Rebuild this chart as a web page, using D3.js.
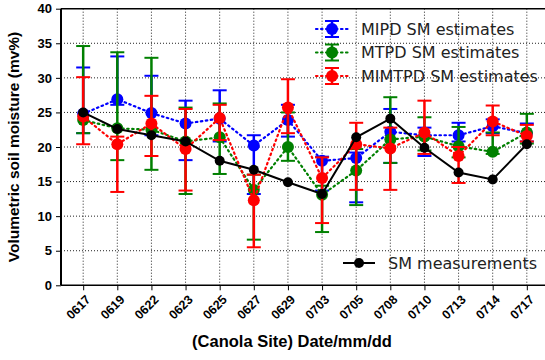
<!DOCTYPE html>
<html lang="en">
<head>
  <meta charset="UTF-8" />
  <title>Canola site soil moisture</title>
  <script src="https://cdn.jsdelivr.net/npm/d3@7/dist/d3.min.js"></script>
  <style>
    body { margin: 0; background: #fff; }
    svg { display: block; }
  </style>
</head>
<body>
  <svg width="545" height="360"></svg>

  <script>
    // dates on the x axis
    const dates = ['0617', '0619', '0622', '0623', '0625', '0627', '0629',
      '0703', '0705', '0708', '0710', '0713', '0714', '0717'];

    // measured soil moisture
    const smMeas = [25.0, 22.6, 21.7, 20.8, 18.0, 16.7, 14.9, 13.2, 21.4, 24.1, 19.9, 16.3, 15.3, 20.4];

    // MIPD estimates (value, lower, upper)
    const mipd = [24.8, 26.9, 24.9, 23.4, 24.1, 20.2, 23.9, 18.0, 18.4, 22.2, 21.7, 21.7, 23.0, 22.0];
    const mipdLo = [22.0, 26.1, 21.7, 18.1, 20.8, 13.2, 21.5, 13.7, 12.0, 17.7, 18.7, 20.8, 22.0, 20.8];
    const mipdHi = [31.5, 33.1, 30.3, 26.7, 28.2, 21.7, 26.1, 18.6, 19.2, 25.5, 22.8, 23.5, 24.0, 23.4];

    // MTPD estimates
    const mtpd = [23.9, 22.7, 22.5, 20.8, 21.4, 13.8, 20.0, 13.1, 16.6, 21.1, 21.5, 20.1, 19.3, 22.1];
    const mtpdLo = [22.0, 18.1, 16.7, 13.2, 16.1, 6.6, 18.0, 7.7, 11.6, 17.7, 19.5, 18.5, 19.0, 20.5];
    const mtpdHi = [34.6, 33.7, 32.9, 25.7, 26.3, 16.0, 25.0, 14.4, 19.7, 27.2, 24.3, 22.9, 22.1, 24.8];

    // MIMTPD estimates
    const mimtpd = [24.4, 20.4, 23.4, 19.7, 24.2, 12.3, 25.7, 15.5, 20.4, 19.8, 22.1, 18.7, 23.7, 21.6];
    const mimtpdLo = [20.4, 13.5, 18.7, 13.7, 21.0, 5.5, 22.0, 9.0, 13.8, 13.8, 19.0, 14.8, 21.7, 20.8];
    const mimtpdHi = [30.1, 21.5, 27.4, 25.5, 26.1, 16.0, 29.8, 18.5, 23.5, 22.8, 26.7, 20.0, 26.0, 23.2];

    const yTicks = [0, 5, 10, 15, 20, 25, 30, 35, 40];

    const series = [
      { name: 'MIPD SM estimates', color: '#0000ff', v: mipd, lo: mipdLo, hi: mipdHi },
      { name: 'MTPD SM estimates', color: '#008000', v: mtpd, lo: mtpdLo, hi: mtpdHi },
      { name: 'MIMTPD SM estimates', color: '#ff0000', v: mimtpd, lo: mimtpdLo, hi: mimtpdHi },
    ];

    const svg = d3.select('svg');
    const pLeft = 61, pRight = 549, pTop = 8.7, pBottom = 285.3;

    const x = d3.scaleLinear().domain([-0.65, dates.length - 0.35]).range([pLeft, pRight]);
    const y = d3.scaleLinear().domain([0, 40]).range([pBottom, pTop]);

    const boldFont = '"Liberation Sans", Arial, sans-serif';

    // grid
    const grid = svg.append('g');
    grid.selectAll('.gy').data(yTicks.slice(1, -1)).enter().append('line')
      .attr('x1', pLeft).attr('x2', pRight)
      .attr('y1', d => y(d)).attr('y2', d => y(d))
      .attr('stroke', '#222').attr('stroke-width', 1).attr('stroke-dasharray', '1,2');
    grid.selectAll('.gx').data(dates).enter().append('line')
      .attr('x1', (d, i) => x(i)).attr('x2', (d, i) => x(i))
      .attr('y1', pTop).attr('y2', pBottom)
      .attr('stroke', '#222').attr('stroke-width', 1).attr('stroke-dasharray', '1,2');

    // y axis
    const yAxis = svg.append('g')
      .attr('transform', `translate(${pLeft},0)`)
      .call(d3.axisLeft(y).tickValues(yTicks).tickSize(5).tickPadding(4));
    yAxis.select('.domain').remove();
    yAxis.selectAll('text').attr('font-family', boldFont).attr('font-weight', 'bold')
      .attr('font-size', 13).attr('fill', '#000');

    // x axis (ticks only, labels drawn below)
    const xAxis = svg.append('g')
      .attr('transform', `translate(0,${pBottom})`)
      .call(d3.axisBottom(x).tickValues(d3.range(dates.length)).tickSize(5).tickFormat(''));
    xAxis.select('.domain').remove();

    // 45 degree labels
    svg.append('g').selectAll('text').data(dates).enter().append('text')
      .attr('transform', (d, i) => `translate(${x(i) + 5},${pBottom + 12}) rotate(-45)`)
      .attr('text-anchor', 'end')
      .attr('dy', '0.35em')
      .attr('font-family', boldFont).attr('font-weight', 'bold').attr('font-size', 12.5).attr('fill', '#000')
      .text(d => d);

    // frame
    svg.append('line').attr('x1', pLeft).attr('x2', pLeft).attr('y1', pTop).attr('y2', pBottom)
      .attr('stroke', '#000').attr('stroke-width', 2);
    svg.append('line').attr('x1', pLeft).attr('x2', pRight).attr('y1', pBottom).attr('y2', pBottom)
      .attr('stroke', '#000').attr('stroke-width', 1.5);
    svg.append('line').attr('x1', pLeft).attr('x2', pRight).attr('y1', pTop).attr('y2', pTop)
      .attr('stroke', '#000').attr('stroke-width', 1.5);

    const capW = 7;

    // estimate series with error bars
    series.forEach(s => {
      const g = svg.append('g');
      g.append('path')
        .datum(s.v)
        .attr('d', d3.line().x((d, i) => x(i)).y(d => y(d)))
        .attr('fill', 'none').attr('stroke', s.color).attr('stroke-width', 2.2)
        .attr('stroke-dasharray', '1.5,3.5').attr('stroke-linecap', 'round');
      const eb = g.selectAll('g.eb').data(s.v).enter().append('g');
      eb.append('line')
        .attr('x1', (d, i) => x(i)).attr('x2', (d, i) => x(i))
        .attr('y1', (d, i) => y(s.lo[i])).attr('y2', (d, i) => y(s.hi[i]))
        .attr('stroke', s.color).attr('stroke-width', 2.5);
      eb.append('line')
        .attr('x1', (d, i) => x(i) - capW).attr('x2', (d, i) => x(i) + capW)
        .attr('y1', (d, i) => y(s.lo[i])).attr('y2', (d, i) => y(s.lo[i]))
        .attr('stroke', s.color).attr('stroke-width', 2);
      eb.append('line')
        .attr('x1', (d, i) => x(i) - capW).attr('x2', (d, i) => x(i) + capW)
        .attr('y1', (d, i) => y(s.hi[i])).attr('y2', (d, i) => y(s.hi[i]))
        .attr('stroke', s.color).attr('stroke-width', 2);
      eb.append('circle')
        .attr('cx', (d, i) => x(i)).attr('cy', d => y(d))
        .attr('r', 6).attr('fill', s.color);
    });

    // measurements
    svg.append('path')
      .datum(smMeas)
      .attr('d', d3.line().x((d, i) => x(i)).y(d => y(d)))
      .attr('fill', 'none').attr('stroke', '#000').attr('stroke-width', 2);
    svg.append('g').selectAll('circle').data(smMeas).enter().append('circle')
      .attr('cx', (d, i) => x(i)).attr('cy', d => y(d)).attr('r', 5).attr('fill', '#000');

    // legend for estimates
    const legFont = '"DejaVu Sans", sans-serif';
    const leg = svg.append('g');
    series.forEach((s, k) => {
      const ly = 29 + k * 23.5;
      const lx = 332;
      leg.append('line').attr('x1', 316).attr('x2', 348).attr('y1', ly).attr('y2', ly)
        .attr('stroke', s.color).attr('stroke-width', 2.2).attr('stroke-dasharray', '1.5,3.5').attr('stroke-linecap', 'round');
      leg.append('line').attr('x1', lx).attr('x2', lx).attr('y1', ly - 8).attr('y2', ly + 8)
        .attr('stroke', s.color).attr('stroke-width', 2.5);
      [ly - 8, ly + 8].forEach(cy => {
        leg.append('line').attr('x1', lx - capW).attr('x2', lx + capW).attr('y1', cy).attr('y2', cy)
          .attr('stroke', s.color).attr('stroke-width', 2);
      });
      leg.append('circle').attr('cx', lx).attr('cy', ly).attr('r', 6).attr('fill', s.color);
      leg.append('text').attr('x', 361).attr('y', ly).attr('dy', '0.35em')
        .attr('font-family', legFont).attr('font-size', 16).attr('fill', '#222').text(s.name);
    });

    // legend for measurements
    const ly2 = 263;
    leg.append('line').attr('x1', 343).attr('x2', 375).attr('y1', ly2).attr('y2', ly2)
      .attr('stroke', '#000').attr('stroke-width', 2);
    leg.append('circle').attr('cx', 359).attr('cy', ly2).attr('r', 5).attr('fill', '#000');
    leg.append('text').attr('x', 388).attr('y', ly2).attr('dy', '0.35em')
      .attr('font-family', legFont).attr('font-size', 16).attr('fill', '#222').text('SM measurements');

    // axis titles
    svg.append('text')
      .attr('x', 292).attr('y', 347)
      .attr('text-anchor', 'middle')
      .attr('font-family', boldFont).attr('font-weight', 'bold').attr('font-size', 16.5)
      .text('(Canola Site) Date/mm/dd');
    svg.append('text')
      .attr('transform', `translate(19,${(pTop + pBottom) / 2}) rotate(-90)`)
      .attr('text-anchor', 'middle')
      .attr('font-family', boldFont).attr('font-weight', 'bold').attr('font-size', 15.5)
      .text('Volumetric soil moisture (mv%)');
  </script>
</body>
</html>
